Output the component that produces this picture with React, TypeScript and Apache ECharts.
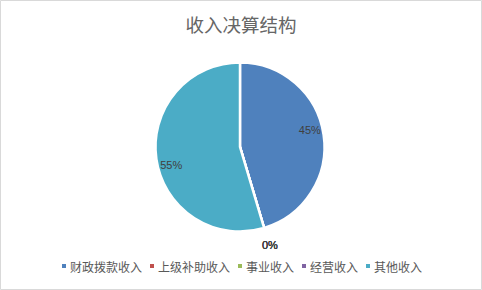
import React, { useEffect, useRef } from "react";
import * as echarts from "echarts";

const titleText = "收入决算结构";
const categories = ["财政拨款收入", "上级补助收入", "事业收入", "经营收入", "其他收入"];
const values = [45.4, 0, 0, 0, 54.6];
const colors = ["#4F81BD", "#C0504D", "#9BBB59", "#8064A2", "#4BACC6"];
// label nudges (styling), relative to ECharts' default inside position
const labelNudges = [
  [25, -10],
  [17, 55],
  [17, 55],
  [17, 55],
  [-24, 11],
];

export default function App() {
  const ref = useRef<HTMLDivElement>(null);
  useEffect(() => {
    document.body.style.margin = "0";
    if (!ref.current) return;
    const chart = echarts.init(ref.current, null, { renderer: "svg" });
    const font = "'Liberation Sans', 'Noto Sans CJK SC', sans-serif";
    chart.setOption({
      animation: false,
      backgroundColor: "#ffffff",
      title: {
        text: titleText,
        left: "center",
        top: 10,
        textStyle: {
          fontSize: 18.5,
          fontWeight: "normal",
          color: "#666666",
          fontFamily: "'Noto Sans CJK SC', sans-serif",
        },
      },
      legend: {
        bottom: 13,
        left: "center",
        itemWidth: 6,
        itemHeight: 6,
        itemGap: 6,
        icon: "rect",
        textStyle: {
          fontSize: 12,
          color: "#595959",
          fontFamily: "'Noto Sans CJK SC', sans-serif",
          padding: [0, 0, 0, -2],
        },
        data: categories,
      },
      graphic: [
        {
          type: "rect",
          shape: { x: 0.5, y: 0.5, width: 481, height: 289 },
          style: { fill: "none", stroke: "#d9d9d9", lineWidth: 1 },
          silent: true,
          z: 100,
        },
      ],
      series: [
        {
          type: "pie",
          center: [240, 147],
          radius: 84.5,
          startAngle: 90,
          clockwise: true,
          avoidLabelOverlap: false,
          itemStyle: { borderColor: "#ffffff", borderWidth: 2.5 },
          label: {
            show: true,
            position: "inside",
            formatter: (p: any) => Math.round(p.percent) + "%",
            fontSize: 11,
            color: "#404040",
            fontFamily: font,
          },
          labelLine: { show: false },
          labelLayout: (p: any) => ({
            dx: labelNudges[p.dataIndex][0],
            dy: labelNudges[p.dataIndex][1],
          }),
          data: categories.map((name, i) => ({
            name,
            value: values[i],
            itemStyle: { color: colors[i] },
          })),
        },
      ],
    });
    return () => chart.dispose();
  }, []);
  return <div ref={ref} style={{ width: 482, height: 290 }} />;
}
